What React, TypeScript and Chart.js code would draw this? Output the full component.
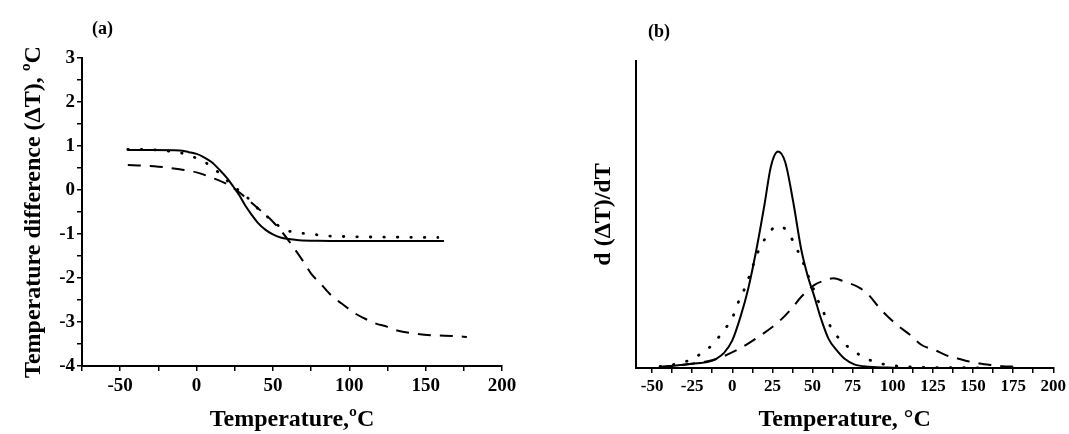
import React, { useEffect, useRef } from 'react';
import { Chart, registerables } from 'chart.js';

Chart.register(...registerables);

// ---------- Panel (a): temperature difference vs temperature ----------
const aSolidX = [-45, -30, -11, -5, 0, 4, 10, 15, 20, 24, 28, 32, 36, 40, 45, 50, 55, 60, 67, 79, 100, 130, 162];
const aSolidY = [0.91, 0.91, 0.9, 0.86, 0.82, 0.76, 0.63, 0.46, 0.27, 0.08, -0.12, -0.36, -0.56, -0.74, -0.9, -1.01, -1.08, -1.115, -1.14, -1.155, -1.16, -1.16, -1.16];

const aDotX = [-45, -35, -20, -10, -2, 7, 15, 22, 28, 33, 41, 49, 57, 66, 75, 84, 100, 120, 140, 158];
const aDotY = [0.92, 0.92, 0.89, 0.84, 0.75, 0.6, 0.38, 0.15, -0.02, -0.16, -0.45, -0.68, -0.89, -0.97, -1.0, -1.04, -1.06, -1.07, -1.075, -1.08];

const aDashX = [-45, -25, -11, 0, 10, 19, 26, 33, 40, 50, 57, 64, 70, 75, 81, 88, 95, 104, 110, 117, 125, 132, 140, 154, 170, 177];
const aDashY = [0.57, 0.53, 0.47, 0.4, 0.28, 0.15, 0.0, -0.2, -0.41, -0.72, -1.0, -1.33, -1.63, -1.9, -2.12, -2.39, -2.58, -2.81, -2.92, -3.03, -3.11, -3.2, -3.25, -3.3, -3.32, -3.34];

const aXTicks = [-75, -50, -25, 0, 25, 50, 75, 100, 125, 150, 175, 200];
const aXLabels = [-50, 0, 50, 100, 150, 200];
const aYTicks = [-4, -3.5, -3, -2.5, -2, -1.5, -1, -0.5, 0, 0.5, 1, 1.5, 2, 2.5, 3];
const aYLabels = [-4, -3, -2, -1, 0, 1, 2, 3];

// ---------- Panel (b): derivative d(ΔT)/dT ----------
const bSolidX = [-45, -35, -25, -15, -10, -5, 0, 5, 10, 15, 20, 24, 28.5, 33, 38, 43, 47, 51, 55, 60, 65, 70, 76, 85, 100, 130, 160];
const bSolidY = [0.004, 0.008, 0.014, 0.02, 0.03, 0.05, 0.09, 0.165, 0.26, 0.385, 0.53, 0.655, 0.705, 0.67, 0.54, 0.385, 0.3, 0.235, 0.165, 0.095, 0.058, 0.03, 0.012, 0.004, 0.001, 0, 0];

const bDotX = [-45, -35, -28, -20, -12, -5, 0, 3, 7, 10, 13, 16, 20.5, 24, 28, 31, 35, 39.5, 43.5, 46.5, 50, 53, 57, 61, 67, 75, 83, 92, 100, 108, 120, 140, 160];
const bDotY = [0.005, 0.013, 0.023, 0.045, 0.078, 0.125, 0.162, 0.205, 0.25, 0.29, 0.335, 0.378, 0.422, 0.448, 0.462, 0.46, 0.44, 0.395, 0.352, 0.31, 0.265, 0.225, 0.18, 0.137, 0.093, 0.058, 0.032, 0.015, 0.008, 0.004, 0.002, 0.001, 0];

const bDashX = [-45, -35, -24, -12, 3, 15, 29, 37, 43, 51, 57, 63, 70, 78, 85, 91, 97, 104, 111, 118, 126, 133, 140, 146, 154, 161, 168, 177];
const bDashY = [0.004, 0.008, 0.015, 0.026, 0.059, 0.097, 0.151, 0.194, 0.232, 0.27, 0.284, 0.292, 0.281, 0.265, 0.238, 0.2, 0.167, 0.135, 0.107, 0.075, 0.059, 0.042, 0.032, 0.023, 0.015, 0.01, 0.006, 0.004];

const bXTicks = [-50, -37.5, -25, -12.5, 0, 12.5, 25, 37.5, 50, 62.5, 75, 87.5, 100, 112.5, 125, 137.5, 150, 162.5, 175, 187.5, 200];
const bXLabels = [-50, -25, 0, 25, 50, 75, 100, 125, 150, 175, 200];

const FAMILY = '"Liberation Serif", "Times New Roman", serif';

const pts = (xs: number[], ys: number[]) => xs.map((x, i) => ({ x, y: ys[i] }));

const solidStyle = { borderColor: '#000', borderWidth: 2, pointRadius: 0, fill: false, cubicInterpolationMode: 'monotone' as const };
const dotStyle = { borderColor: '#000', borderWidth: 2.8, borderDash: [0.5, 13], borderCapStyle: 'round' as const, pointRadius: 0, fill: false, cubicInterpolationMode: 'monotone' as const };
const dashStyle = { borderColor: '#000', borderWidth: 2, borderDash: [13, 9], pointRadius: 0, fill: false, cubicInterpolationMode: 'monotone' as const };

function setTicks(values: number[]) {
  return (axis: any) => {
    axis.ticks = values.map((v) => ({ value: v }));
  };
}

function configA(): any {
  return {
    type: 'line',
    data: {
      datasets: [
        { ...dashStyle, data: pts(aDashX, aDashY) },
        { ...dotStyle, data: pts(aDotX, aDotY) },
        { ...solidStyle, data: pts(aSolidX, aSolidY) },
      ],
    },
    options: {
      animation: false,
      responsive: false,
      maintainAspectRatio: false,
      layout: { padding: { left: 0, top: 58, right: 28, bottom: 0 } },
      plugins: { legend: { display: false }, tooltip: { enabled: false } },
      scales: {
        x: {
          type: 'linear',
          min: -75,
          max: 200,
          afterBuildTicks: setTicks(aXTicks),
          afterFit: (s: any) => { s.height = 68; },
          ticks: {
            autoSkip: false, maxRotation: 0, padding: 4, color: '#000',
            font: { family: FAMILY, size: 19, weight: 'bold' },
            callback: (v: any) => (aXLabels.includes(Number(v)) ? String(v) : ''),
          },
          grid: { drawOnChartArea: false, drawTicks: true, tickLength: 5, color: '#000', lineWidth: 1.5 },
          border: { display: true, color: '#000', width: 2 },
          title: {
            display: true, text: 'Temperature,ºC', color: '#000',
            font: { family: FAMILY, size: 24, weight: 'bold', lineHeight: 1.2 },
            padding: { top: 0, bottom: 0 },
          },
        },
        y: {
          type: 'linear',
          min: -4,
          max: 3,
          afterBuildTicks: setTicks(aYTicks),
          afterFit: (s: any) => { s.width = 82; },
          ticks: {
            autoSkip: false, padding: 2, color: '#000',
            font: { family: FAMILY, size: 19, weight: 'bold' },
            callback: (v: any) => (aYLabels.includes(Number(v)) ? String(v) : ''),
          },
          grid: { drawOnChartArea: false, drawTicks: true, tickLength: 5, color: '#000', lineWidth: 1.5 },
          border: { display: true, color: '#000', width: 2 },
          title: {
            display: true, text: 'Temperature difference (ΔT), ºC', color: '#000',
            font: { family: FAMILY, size: 24, weight: 'bold', lineHeight: 1.2 },
            padding: { top: 19, bottom: 0 },
          },
        },
      },
    },
  };
}

function configB(): any {
  return {
    type: 'line',
    data: {
      datasets: [
        { ...dashStyle, data: pts(bDashX, bDashY) },
        { ...dotStyle, data: pts(bDotX, bDotY) },
        { ...solidStyle, data: pts(bSolidX, bSolidY) },
      ],
    },
    options: {
      animation: false,
      responsive: false,
      maintainAspectRatio: false,
      layout: { padding: { left: 0, top: 61, right: 15, bottom: 0 } },
      plugins: { legend: { display: false }, tooltip: { enabled: false } },
      scales: {
        x: {
          type: 'linear',
          min: -60,
          max: 200,
          afterBuildTicks: setTicks(bXTicks),
          afterFit: (s: any) => { s.height = 66; },
          ticks: {
            autoSkip: false, maxRotation: 0, padding: 3, color: '#000',
            font: { family: FAMILY, size: 17, weight: 'bold' },
            callback: (v: any) => (bXLabels.includes(Number(v)) ? String(v) : ''),
          },
          grid: { drawOnChartArea: false, drawTicks: true, tickLength: 5, color: '#000', lineWidth: 1.5 },
          border: { display: true, color: '#000', width: 2 },
          title: {
            display: true, text: 'Temperature, °C', color: '#000',
            font: { family: FAMILY, size: 24, weight: 'bold', lineHeight: 1.2 },
            padding: { top: 0, bottom: 0 },
          },
        },
        y: {
          type: 'linear',
          min: 0,
          max: 1,
          afterFit: (s: any) => { s.width = 96; },
          ticks: { display: false },
          grid: { display: false, drawTicks: false },
          border: { display: true, color: '#000', width: 2 },
          title: {
            display: true, text: 'd (ΔT)/dT', color: '#000',
            font: { family: FAMILY, size: 24, weight: 'bold', lineHeight: 1.2 },
            padding: { top: 49, bottom: 0 },
          },
        },
      },
    },
  };
}

function Panel({ left, width, make }: { left: number; width: number; make: () => any }) {
  const ref = useRef<HTMLCanvasElement | null>(null);
  useEffect(() => {
    if (!ref.current) return;
    const chart = new Chart(ref.current, make());
    return () => chart.destroy();
  }, [make]);
  return (
    <canvas
      ref={ref}
      width={width}
      height={434}
      style={{ position: 'absolute', left, top: 0, width, height: 434 }}
    />
  );
}

const labelStyle: React.CSSProperties = {
  position: 'absolute',
  fontFamily: FAMILY,
  fontWeight: 'bold',
  fontSize: 18,
  lineHeight: '18px',
  color: '#000',
};

export default function App() {
  return (
    <div style={{ position: 'fixed', left: 0, top: 0, width: 1069, height: 434, background: '#fff', overflow: 'hidden' }}>
      <Panel left={0} width={530} make={configA} />
      <Panel left={540} width={529} make={configB} />
      <div style={{ ...labelStyle, left: 92, top: 19 }}>(a)</div>
      <div style={{ ...labelStyle, left: 648, top: 22 }}>(b)</div>
    </div>
  );
}
